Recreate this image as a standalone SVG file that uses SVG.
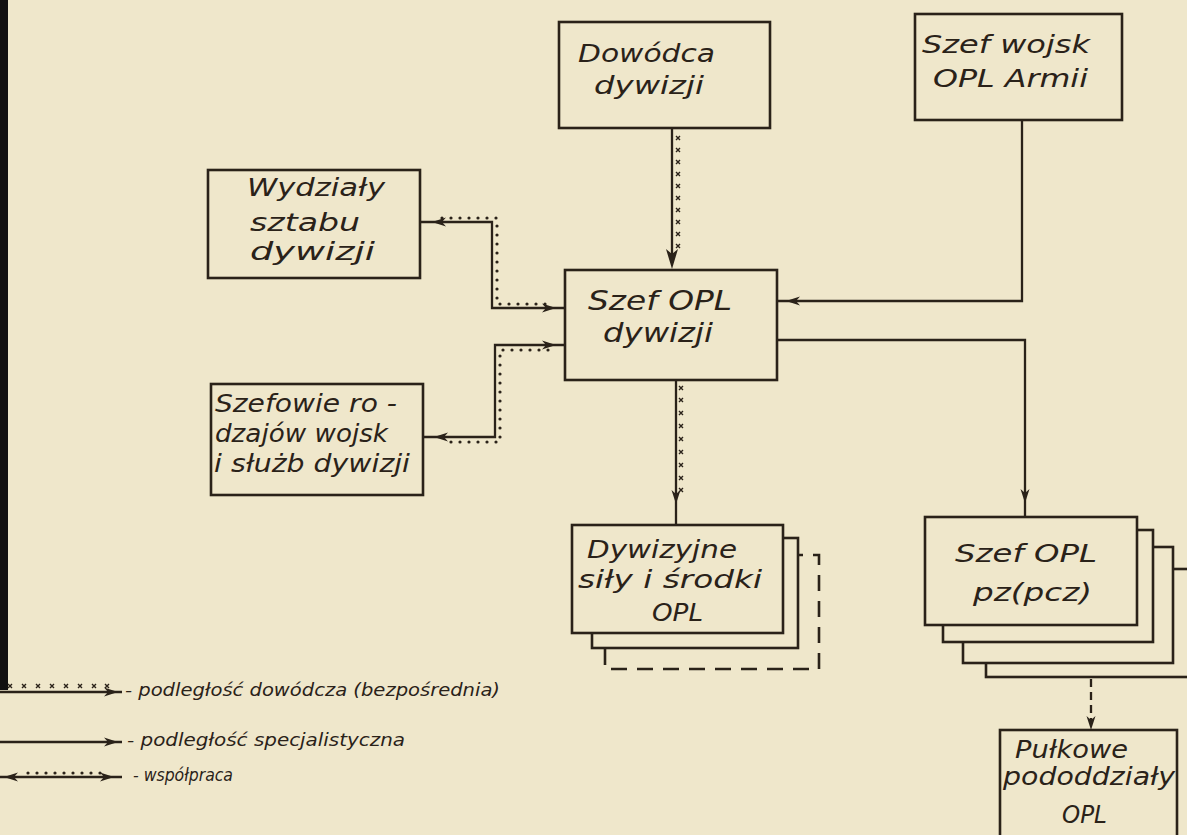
<svg xmlns="http://www.w3.org/2000/svg" xmlns:xlink="http://www.w3.org/1999/xlink" width="1187" height="835" viewBox="0 0 1187 835">
<style>
.bg{fill:#efe7cb}
.box{fill:#efe7cb;stroke:#2a2219;stroke-width:2.6}
.dash{fill:#efe7cb;stroke:#2a2219;stroke-width:2.6;stroke-dasharray:16 10}
.ln{fill:none;stroke:#2a2219;stroke-width:2.3}
.dln{fill:none;stroke:#2a2219;stroke-width:2.3;stroke-dasharray:8 5}
.dot{fill:none;stroke:#2a2219;stroke-width:3.2;stroke-dasharray:0 9;stroke-linecap:round}
.xm{fill:none;stroke:none;marker-start:url(#xm);marker-mid:url(#xm);marker-end:url(#xm)}
.ah{fill:#2a2219}
.t{font-family:"DejaVu Sans",sans-serif;font-style:italic;font-size:25px;fill:#2a2219}
.tb{font-family:"DejaVu Sans",sans-serif;font-style:italic;font-size:27px;fill:#2a2219}
.tl{font-family:"DejaVu Sans",sans-serif;font-style:italic;font-size:18px;fill:#2a2219}
</style>
<defs>
<marker id="xm" viewBox="-3 -3 6 6" markerWidth="6" markerHeight="6" markerUnits="userSpaceOnUse" refX="0" refY="0" orient="0">
<path d="M-2,-2 L2,2 M2,-2 L-2,2" stroke="#2a2219" stroke-width="1.4" fill="none"/>
</marker>
<path id="ah" d="M0,0 L-14,-4.5 L-10,0 L-14,4.5 Z"/>
<path id="ahb" d="M0,0 L-20,-6 L-15,0 L-20,6 Z"/>
</defs>
<rect class="bg" x="0" y="0" width="1187" height="835"/>
<rect x="0" y="0" width="8" height="690" fill="#121010"/>

<g id="dowodca">
<rect class="box" x="559" y="22" width="211" height="106"/>
<text class="t" x="578" y="62" textLength="137" lengthAdjust="spacingAndGlyphs">Dowódca</text>
<text class="t" x="594" y="94" textLength="110" lengthAdjust="spacingAndGlyphs">dywizji</text>
</g>

<g id="szef-armii">
<rect class="box" x="915" y="14" width="207" height="106"/>
<text class="t" x="922" y="53" textLength="168" lengthAdjust="spacingAndGlyphs">Szef wojsk</text>
<text class="t" x="933" y="87" textLength="155" lengthAdjust="spacingAndGlyphs">OPL Armii</text>
</g>

<g id="wydzialy">
<rect class="box" x="208" y="170" width="212" height="108"/>
<text class="t" x="247" y="196" textLength="138" lengthAdjust="spacingAndGlyphs">Wydziały</text>
<text class="t" x="250" y="231" textLength="110" lengthAdjust="spacingAndGlyphs">sztabu</text>
<text class="t" x="250" y="260" textLength="125" lengthAdjust="spacingAndGlyphs">dywizji</text>
</g>

<g id="szefowie">
<rect class="box" x="211" y="384" width="212" height="111"/>
<text class="t" x="215" y="412" textLength="182" lengthAdjust="spacingAndGlyphs">Szefowie ro -</text>
<text class="t" x="215" y="442" textLength="173" lengthAdjust="spacingAndGlyphs">dzajów wojsk</text>
<text class="t" x="214" y="472" textLength="196" lengthAdjust="spacingAndGlyphs">i służb dywizji</text>
</g>

<g id="szef-opl">
<rect class="box" x="565" y="270" width="212" height="110"/>
<text class="tb" x="588" y="310" textLength="144" lengthAdjust="spacingAndGlyphs">Szef OPL</text>
<text class="tb" x="603" y="342" textLength="110" lengthAdjust="spacingAndGlyphs">dywizji</text>
</g>

<g id="dywizyjne">
<rect class="dash" x="605" y="555" width="214" height="114"/>
<rect class="box" x="592" y="538" width="206" height="110"/>
<rect class="box" x="572" y="525" width="211" height="108"/>
<text class="t" x="587" y="558" textLength="150" lengthAdjust="spacingAndGlyphs">Dywizyjne</text>
<text class="t" x="578" y="588" textLength="184" lengthAdjust="spacingAndGlyphs">siły i środki</text>
<text class="t" x="652" y="621" textLength="51" lengthAdjust="spacingAndGlyphs">OPL</text>
</g>

<g id="szef-pz">
<rect class="box" x="986" y="569" width="260" height="108"/>
<rect class="box" x="963" y="547" width="210" height="116"/>
<rect class="box" x="943" y="530" width="210" height="112"/>
<rect class="box" x="925" y="517" width="212" height="108"/>
<text class="t" x="955" y="562" textLength="142" lengthAdjust="spacingAndGlyphs">Szef OPL</text>
<text class="t" x="973" y="601" textLength="119" lengthAdjust="spacingAndGlyphs">pz(pcz)</text>
</g>

<g id="pulkowe">
<rect class="box" x="1000" y="730" width="177" height="130"/>
<text class="t" x="1015" y="758" textLength="113" lengthAdjust="spacingAndGlyphs">Pułkowe</text>
<text class="t" x="1003" y="785" textLength="172" lengthAdjust="spacingAndGlyphs">pododdziały</text>
<text class="t" x="1062" y="823" textLength="45" lengthAdjust="spacingAndGlyphs">OPL</text>
</g>

<g id="connectors">
<path class="ln" d="M672,128 V262"/>
<use href="#ahb" class="ah" transform="translate(672,269) rotate(90)"/>
<polyline class="xm" points="678,138 678,150 678,162 678,174 678,186 678,198 678,210 678,222 678,234 678,246"/>

<path class="ln" d="M1022,120 V301 H777"/>
<use href="#ah" class="ah" transform="translate(786,301) rotate(180)"/>

<path class="ln" d="M777,340 H1025 V517"/>
<use href="#ah" class="ah" transform="translate(1025,503) rotate(90)"/>

<path class="ln" d="M676,380 V525"/>
<use href="#ah" class="ah" transform="translate(676,504) rotate(90)"/>
<polyline class="xm" points="681,388 681,400 681,413 681,426 681,439 681,452 681,465 681,478 681,490"/>

<path class="ln" d="M420,222 H492 V308 H565"/>
<use href="#ah" class="ah" transform="translate(432,222) rotate(180)"/>
<use href="#ah" class="ah" transform="translate(556,308)"/>
<path class="dot" d="M442,218 H497 V304 H548"/>

<path class="ln" d="M565,345 H495 V437 H423"/>
<use href="#ah" class="ah" transform="translate(556,345)"/>
<use href="#ah" class="ah" transform="translate(434,437) rotate(180)"/>
<path class="dot" d="M548,350 H500 V442 H442"/>

<path class="dln" d="M1091,679 V722"/>
<use href="#ah" class="ah" transform="translate(1091,730) rotate(90)"/>
</g>

<g id="legend">
<path class="ln" d="M0,692 H122"/>
<use href="#ah" class="ah" transform="translate(118,692)"/>
<polyline class="xm" points="10,686 24,686 38,686 52,686 66,686 80,686 94,686 107,686"/>
<text class="tl" x="125" y="696" textLength="375" lengthAdjust="spacingAndGlyphs">- podległość dowódcza (bezpośrednia)</text>

<path class="ln" d="M0,742 H122"/>
<use href="#ah" class="ah" transform="translate(118,742)"/>
<text class="tl" x="127" y="746" textLength="278" lengthAdjust="spacingAndGlyphs">- podległość specjalistyczna</text>

<path class="ln" d="M0,777 H122"/>
<use href="#ah" class="ah" transform="translate(4,777) rotate(180)"/>
<use href="#ah" class="ah" transform="translate(114,777)"/>
<path class="dot" d="M28,773 H104"/>
<text class="tl" x="133" y="781" textLength="100" lengthAdjust="spacingAndGlyphs">- współpraca</text>
</g>
</svg>
